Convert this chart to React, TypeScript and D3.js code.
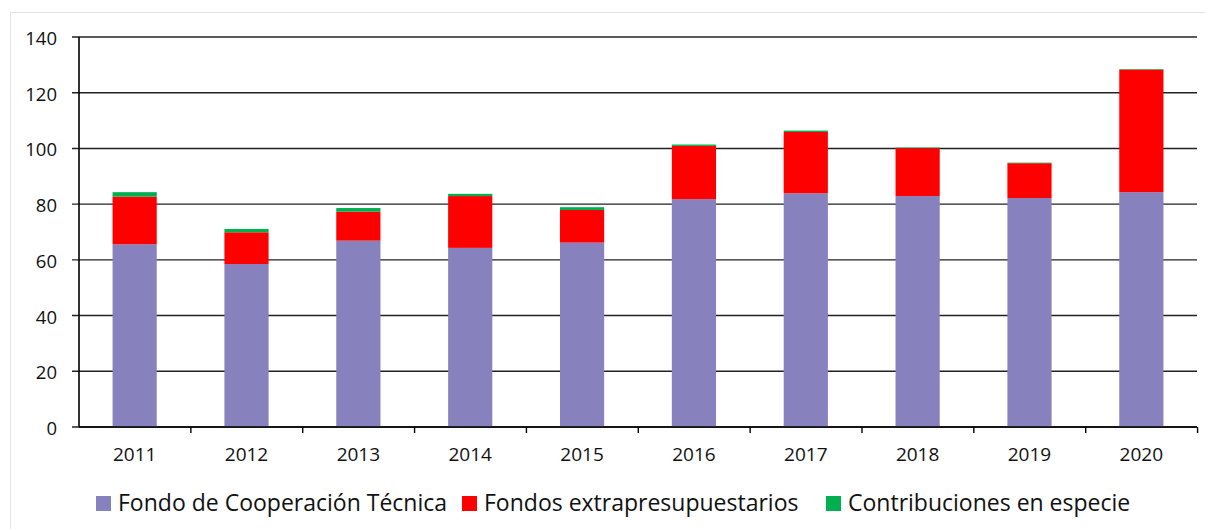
import React from "react";
import * as d3 from "d3";

// data
const years = ["2011", "2012", "2013", "2014", "2015", "2016", "2017", "2018", "2019", "2020"];
const fondoCT = [65.6, 58.5, 66.9, 64.3, 66.2, 81.8, 83.9, 82.9, 82.2, 84.3];
const extraPres = [17.1, 11.4, 10.4, 18.6, 11.7, 19.1, 22.0, 17.2, 12.5, 44.0];
const especie = [1.6, 1.2, 1.3, 0.8, 1.0, 0.5, 0.5, 0.2, 0.2, 0.2];
const seriesNames = ["Fondo de Cooperación Técnica", "Fondos extrapresupuestarios", "Contribuciones en especie"];
const seriesColors = ["#8781bd", "#ff0000", "#00b050"];
const yTicks = [0, 20, 40, 60, 80, 100, 120, 140];

const width = 1205;
const height = 529;
const margin = { left: 79, right: 8, top: 37, bottom: 102 };
const font = "'Open Sans', sans-serif";

const App = () => {
  const rows = years.map((y, i) => ({ year: y, a: fondoCT[i], b: extraPres[i], c: especie[i] }));
  const stack = d3.stack<any>().keys(["a", "b", "c"])(rows);

  const x = d3
    .scaleBand()
    .domain(years)
    .range([margin.left, width - margin.right])
    .paddingInner(0.605)
    .paddingOuter(0.3);
  const step = x.step();
  const y = d3
    .scaleLinear()
    .domain([0, 140])
    .range([height - margin.bottom, margin.top]);

  const x0 = margin.left;
  const x1 = width - margin.right;
  const y0 = y(0);

  // legend layout
  const legendItems = [
    { sq: 96, tx: 118 },
    { sq: 462, tx: 484 },
    { sq: 826, tx: 848 },
  ];

  return (
    <svg width={width} height={height} style={{ position: "absolute", left: 0, top: 0, background: "#fff" }}>
      <rect x={10.5} y={12.5} width={width} height={height} fill="none" stroke="#e3e3e3" />
      {/* gridlines + y ticks */}
      {yTicks.map((t) => (
        <g key={t}>
          <line x1={x0 - 7} x2={x1} y1={y(t)} y2={y(t)} stroke="#222" strokeWidth={1.4} />
          <text x={57} y={y(t) + 8} textAnchor="end" fontFamily={font} fontSize={18.5} fill="#111">
            {t}
          </text>
        </g>
      ))}
      {/* bars */}
      {stack.map((s, si) => (
        <g key={si} fill={seriesColors[si]}>
          {s.map((d, i) => (
            <rect
              key={i}
              x={x(years[i])}
              width={x.bandwidth()}
              y={y(d[1])}
              height={Math.max(0, y(d[0]) - y(d[1]))}
            />
          ))}
        </g>
      ))}
      {/* axes */}
      <line x1={x0} x2={x0} y1={y(140)} y2={y0} stroke="#000" strokeWidth={1.6} />
      <line x1={x0} x2={x1} y1={y0} y2={y0} stroke="#000" strokeWidth={1.6} />
      {years.map((yr, i) => (
        <line
          key={"t" + i}
          x1={x0 + step * (i + 1)}
          x2={x0 + step * (i + 1)}
          y1={y0}
          y2={y0 + 6}
          stroke="#000"
          strokeWidth={1.4}
        />
      ))}
      {years.map((yr) => (
        <text
          key={yr}
          x={(x(yr) as number) + x.bandwidth() / 2}
          y={461}
          textAnchor="middle"
          fontFamily={font}
          fontSize={19}
          fill="#111"
        >
          {yr}
        </text>
      ))}
      {/* legend */}
      {seriesNames.map((n, i) => (
        <g key={n}>
          <rect x={legendItems[i].sq} y={496} width={15} height={15} fill={seriesColors[i]} />
          <text x={legendItems[i].tx} y={511} fontFamily={font} fontSize={23} fill="#111">
            {n}
          </text>
        </g>
      ))}
    </svg>
  );
};

export default App;
